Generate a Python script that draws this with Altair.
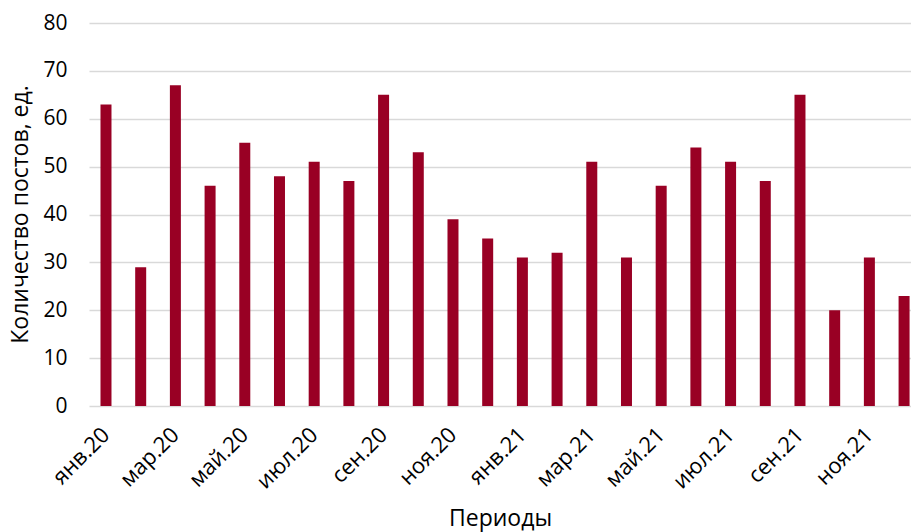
import altair as alt
import pandas as pd

months = ["янв", "фев", "мар", "апр", "май", "июн", "июл", "авг", "сен", "окт", "ноя", "дек"]
periods = [f"{m}.20" for m in months] + [f"{m}.21" for m in months]
values = [63, 29, 67, 46, 55, 48, 51, 47, 65, 53, 39, 35,
          31, 32, 51, 31, 46, 54, 51, 47, 65, 20, 31, 23]
shown_labels = periods[::2]
y_ticks = [0, 10, 20, 30, 40, 50, 60, 70, 80]

df = pd.DataFrame({"period": periods, "value": values})

FONT = "Open Sans"

chart = alt.Chart(df).mark_bar(color="#990024").encode(
    x=alt.X("period:N", sort=periods,
            scale=alt.Scale(paddingInner=0.683, paddingOuter=0.186, align=0.89),
            axis=alt.Axis(title="Периоды", values=shown_labels, labelAngle=-45,
                          labelAlign="right", labelBaseline="middle",
                          labelPadding=25, ticks=False, domain=False,
                          labelFont=FONT, labelFontSize=22, labelColor="#000000",
                          titleFont=FONT, titleFontSize=23, titleFontWeight="normal",
                          titleColor="#000000", titleY=119, titleBaseline="alphabetic")),
    y=alt.Y("value:Q", scale=alt.Scale(domain=[0, 80], nice=False),
            axis=alt.Axis(title="Количество постов, ед.", values=y_ticks,
                          grid=True, gridColor="#d9d9d9", gridWidth=1.3,
                          domain=False, ticks=False, labelPadding=22,
                          labelFont=FONT, labelFontSize=21, labelColor="#000000",
                          titleFont=FONT, titleFontSize=23, titleFontWeight="normal",
                          titleColor="#000000", titleX=-57, titleY=191)),
).properties(
    width=822, height=383,
    padding={"left": 89, "top": 23, "right": 0, "bottom": 126},
    autosize="none",
).configure_view(stroke=None)

chart.save("out.html", embed_options={"renderer": "svg", "actions": False})
